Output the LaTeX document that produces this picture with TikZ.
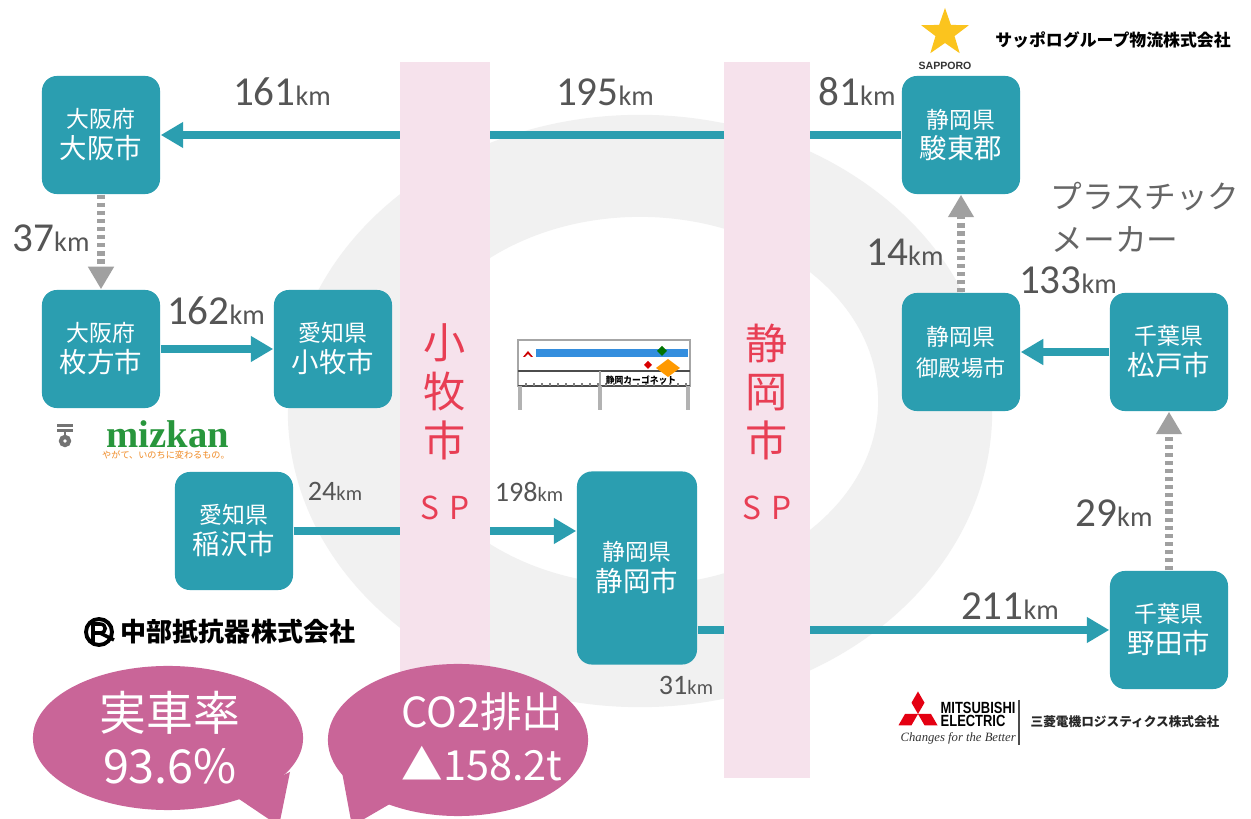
\documentclass[tikz,border=0pt]{standalone}
\usepackage{fontspec}
\setmainfont{Noto Sans CJK JP}
\newfontfamily\numfont{Carlito}
\newfontfamily\sansfont{Liberation Sans}
\newfontfamily\condfont[FakeStretch=0.8]{Liberation Sans}
\newfontfamily\seriffont{Liberation Serif}
\usepackage{xcolor}
\usetikzlibrary{arrows, arrows.meta}
\usetikzlibrary{calc}
\usetikzlibrary{shapes.geometric}

\definecolor{routeteal}{RGB}{43,158,176}
\definecolor{dotgray}{RGB}{160,160,160}
\definecolor{strippink}{RGB}{246,226,236}
\definecolor{spred}{RGB}{232,62,84}
\definecolor{ringgray}{RGB}{241,241,241}
\definecolor{bubblepink}{RGB}{201,101,152}
\definecolor{kmgray}{RGB}{85,85,85}
\definecolor{staryellow}{RGB}{251,196,30}
\definecolor{mizgreen}{RGB}{40,150,60}
\definecolor{mizorange}{RGB}{240,140,40}
\definecolor{mitsured}{RGB}{228,0,18}
\definecolor{truckblue}{RGB}{52,142,222}

% distance labels: big number, small unit
\newcommand{\km}[1]{{\numfont\fontsize{11.7}{12}\selectfont #1\fontsize{8}{9}\selectfont km}}
\newcommand{\kms}[1]{{\numfont\fontsize{8}{9}\selectfont #1\fontsize{5.8}{7}\selectfont km}}
\newcommand{\placename}[2]{{\fontsize{6.5}{8.8}\selectfont #1}\\#2}

\tikzset{
  site/.style={rectangle, rounded corners=0.15cm, fill=routeteal, text=white, align=center,
    minimum width=1.18cm, minimum height=1.18cm, inner sep=0pt, font=\fontsize{7.8}{8.8}\selectfont},
  route/.style={draw=routeteal, line width=2pt, -{Triangle[length=6.4pt, width=7pt]}},
  local/.style={draw=dotgray, line width=2pt, dash pattern=on 1.2pt off 1.1pt,
    -{Triangle[length=6.4pt, width=7pt]}},
  dist/.style={text=kmgray, inner sep=0pt},
  strip/.style={fill=strippink, minimum height=7.16cm, inner sep=0pt},
  striptext/.style={text=spred, align=center, inner sep=0pt, font=\fontsize{12}{13.9}\selectfont},
  bubbletext/.style={text=white, align=center, inner sep=0pt, font=\fontsize{13.3}{15}\selectfont},
}

\begin{document}
\begin{tikzpicture}[x=0.01cm, y=-0.01cm]
  \useasboundingbox (0,0) rectangle (1251,819);
  \fill[white] (0,0) rectangle (1251,819);

  % grey ring in the back
  \fill[ringgray, even odd rule] (640,411) ellipse [x radius=3.52cm, y radius=2.96cm]
    (640,401) ellipse [x radius=2.38cm, y radius=1.84cm];

  \node[site] (osaka) at (101,135) {\placename{大阪府}{大阪市}};
  \node[site] (hirakata) at (101,349) {\placename{大阪府}{枚方市}};
  \node[site] (komaki) at (333,349) {\placename{愛知県}{小牧市}};
  \node[site] (inazawa) at (234,531) {\placename{愛知県}{稲沢市}};
  \node[site, minimum width=1.2cm, minimum height=1.93cm] (shizuoka) at (637,568) {\placename{静岡県}{静岡市}};
  \node[site] (sunto) at (961,135) {\placename{静岡県}{駿東郡}};
  \node[site, font=\fontsize{6.3}{8.8}\selectfont] (gotemba) at (961,352) {\placename{静岡県}{御殿場市}};
  \node[site] (matsudo) at (1169,352) {\placename{千葉県}{松戸市}};
  \node[site] (noda) at (1169,630) {\placename{千葉県}{野田市}};

  \draw[route] (sunto) -- (osaka);
  \draw[local] (osaka) -- (hirakata);
  \draw[route] (hirakata) -- (komaki);
  \draw[route] (inazawa.east) -- (inazawa.east -| shizuoka.west);
  \draw[route] (shizuoka.east |- noda) -- (noda);
  \draw[route] (matsudo) -- (gotemba);
  \draw[local] (gotemba) -- (sunto);
  \draw[local] (noda) -- (matsudo);

  % the two SP strips
  \node[strip, minimum width=0.9cm] (komakisp) at (445,420) {};
  \node[strip, minimum width=0.85cm] (shizuokasp) at (767,420) {};
  \node[striptext] (komakiname) at (445,392) {小\\牧\\市};
  \node[striptext] (shizuokaname) at (767,392) {静\\岡\\市};
  \node[striptext, font=\fontsize{9}{10}\selectfont] (komakimark) at (445,508) {S\hspace{3pt}P};
  \node[striptext, font=\fontsize{9}{10}\selectfont] (shizuokamark) at (767,508) {S\hspace{3pt}P};

  \node[dist] (d161) at (282,92) {\km{161}};
  \node[dist] (d195) at (605,92) {\km{195}};
  \node[dist] (d81) at (857,92) {\km{81}};
  \node[dist] (d37) at (51,238) {\km{37}};
  \node[dist] (d162) at (216,311) {\km{162}};
  \node[dist] (d24) at (335,491) {\kms{24}};
  \node[dist] (d198) at (529,492) {\kms{198}};
  \node[dist] (d31) at (686,685) {\kms{31}};
  \node[dist] (d211) at (1010,606) {\km{211}};
  \node[dist] (d29) at (1114,513) {\km{29}};
  \node[dist] (d133) at (1068,280) {\km{133}};
  \node[dist] (d14) at (905,252) {\km{14}};

  \node[text=black!60, inner sep=0pt, font=\fontsize{9}{10}\selectfont] (plastic) at (1145,197) {プラスチック};
  \node[text=black!60, inner sep=0pt, font=\fontsize{9}{10}\selectfont] (maker) at (1115,240) {メーカー};

  % truck in the middle
  \draw[gray!70, line width=0.4pt] (518,340) rectangle (690,386);
  \fill[truckblue] (536,349) rectangle (688,357);
  \draw[black!70, line width=0.6pt] (518,371) -- (690,371);
  \draw[black!70, line width=0.6pt] (518,386) -- (690,386);
  \draw[gray!70] (600,371) -- (600,386);
  \foreach \x in {526,534,...,686} \draw[gray, line width=0.3pt] (\x,386) -- (\x,383);
  \foreach \x in {520,600,688} \draw[gray!60, line width=1pt] (\x,386) -- (\x,410);
  \fill[red!80!black] (523,357) -- (528,351) -- (533,357) -- (531,357) -- (528,354) -- (525,357) -- cycle;
  \fill[orange!80!yellow] (668,359) -- (680,368) -- (668,377) -- (656,368) -- cycle;
  \fill[green!45!black] (662,346) -- (667,351) -- (662,356) -- (657,351) -- cycle;
  \fill[red!85!black] (648,361) -- (652,365) -- (648,369) -- (644,365) -- cycle;
  \node[inner sep=0pt, font=\fontsize{2.5}{3}\selectfont\bfseries] (truckname) at (641,380) {静岡カーゴネット};

  % sapporo
  \node[star, star points=5, star point ratio=2.5, fill=staryellow, inner sep=0pt, minimum size=0.5cm] (sapstar) at (945,33) {};
  \node[inner sep=0pt, text=black!80, font=\sansfont\fontsize{3}{3.5}\selectfont\bfseries] (sapword) at (945,66) {SAPPORO};
  \node[inner sep=0pt, font=\fontsize{4.8}{5.5}\selectfont\bfseries] (sapco) at (1113,40) {サッポログループ物流株式会社};

  % mizkan
  \fill[black!55] (57,424) rectangle (73,427);
  \fill[black!55] (57,429) rectangle (73,432);
  \draw[black!55, line width=0.6pt] (65,432) -- (65,436);
  \draw[black!55, line width=1.2pt] (65,441) circle [radius=0.04cm];
  \node[inner sep=0pt, text=mizgreen, font=\seriffont\fontsize{11}{12}\selectfont\bfseries] (mizword) at (168,434) {mizkan};
  \node[inner sep=0pt, text=mizorange, font=\fontsize{2.6}{3}\selectfont] (miztag) at (166,455) {やがて、いのちに変わるもの。};

  % chubu
  \draw[line width=1.1pt] (99,632) circle [radius=0.13cm];
  \draw[line width=1pt] (93,643) -- (93,624) -- (100,624) .. controls (107,624) and (107,633) .. (100,633) -- (93,633);
  \draw[line width=1pt] (100,633) -- (114,640);
  \node[inner sep=0pt, font=\fontsize{7.4}{8}\selectfont\bfseries] (chubu) at (238,632) {中部抵抗器株式会社};

  % mitsubishi
  \coordinate (mc) at (918,714);
  \foreach \a in {-90,30,150}
    \fill[mitsured] (mc) -- ++(\a-30:13) -- ++(\a+30:13) -- ++(\a+150:13) -- cycle;
  \node[inner sep=0pt, anchor=west, font=\condfont\fontsize{4.6}{5}\selectfont\bfseries] (mitsu) at (940,708) {MITSUBISHI};
  \node[inner sep=0pt, anchor=west, font=\condfont\fontsize{4.6}{5}\selectfont\bfseries] (elec) at (940,721) {ELECTRIC};
  \node[inner sep=0pt, anchor=west, text=black!80, font=\seriffont\fontsize{3.6}{4}\selectfont\itshape] (better) at (900,738) {Changes for the Better};
  \draw[black!70, line width=0.5pt] (1019,700) -- (1019,745);
  \node[inner sep=0pt, text=black!85, font=\fontsize{3.6}{4}\selectfont\bfseries] (mitsuco) at (1125,722) {三菱電機ロジスティクス株式会社};

  % speech bubbles
  \fill[bubblepink] (168,738) ellipse [x radius=1.35cm, y radius=0.72cm];
  \fill[bubblepink] (236,797) -- (290,772) -- (279,826) -- cycle;
  \fill[bubblepink] (458,740) ellipse [x radius=1.30cm, y radius=0.76cm];
  \fill[bubblepink] (342,772) -- (395,801) -- (352,826) -- cycle;
  \node[bubbletext] (ratio) at (170,738) {実車率\\93.6\%};
  \node[bubbletext, font=\fontsize{11.8}{15}\selectfont] (co2) at (482,737) {CO2排出\\▲158.2t};
\end{tikzpicture}
\end{document}
